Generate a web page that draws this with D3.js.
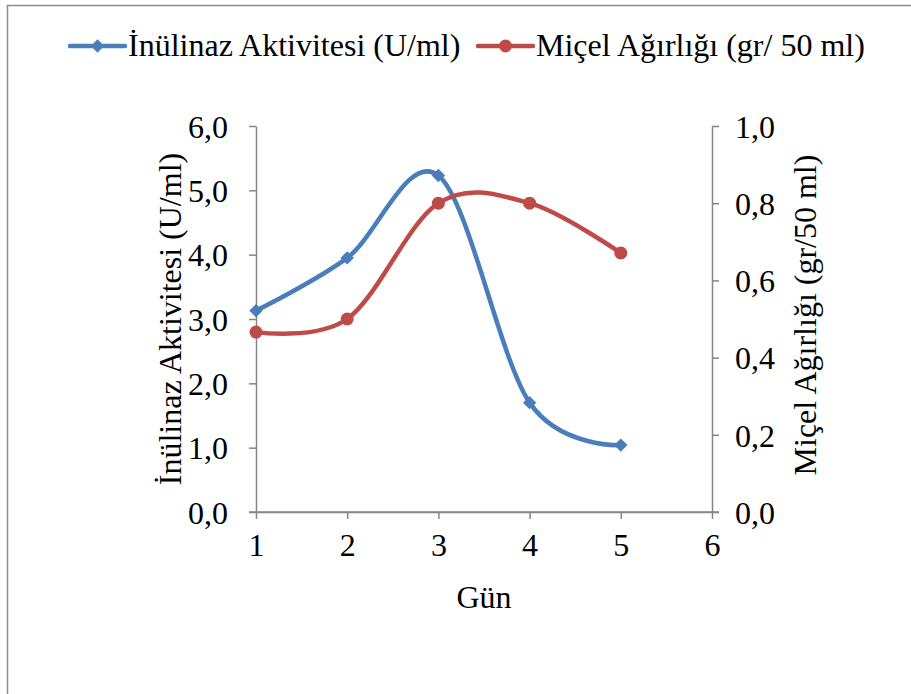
<!DOCTYPE html>
<html><head><meta charset="utf-8">
<script src="https://cdn.jsdelivr.net/npm/d3@7"></script>
<style>html,body{margin:0;padding:0;background:#fff;}svg{display:block;}</style>
</head><body>
<svg id="c" width="911" height="694"></svg>
<script>
const days = [1, 2, 3, 4, 5];
const inulinaz = [3.13, 3.95, 5.23, 1.70, 1.04];
const micel = [0.466, 0.50, 0.80, 0.80, 0.671];
const xTicks = [1, 2, 3, 4, 5, 6];
const yLeftTicks = [0, 1, 2, 3, 4, 5, 6];
const yRightTicks = [0, 0.2, 0.4, 0.6, 0.8, 1.0];
const seriesNames = ["İnülinaz Aktivitesi (U/ml)", "Miçel Ağırlığı (gr/ 50 ml)"];
const leftTitle = "İnülinaz Aktivitesi (U/ml)";
const rightTitle = "Miçel Ağırlığı (gr/50 ml)";
const xTitle = "Gün";

const FONT = "'Liberation Serif','Times New Roman',serif";
const BLUE = "#4a7ebb", RED = "#be4b48", AX = "#868686";
const svg = d3.select("#c");
svg.append("rect").attr("x",7.5).attr("y",5.5).attr("width",920).attr("height",720)
  .attr("fill","none").attr("stroke","#8c8c8c").attr("stroke-width",1.5);

const L = 256, R = 712, T = 126, B = 512;
const x = d3.scaleLinear().domain([1, 6]).range([L, R]);
const yL = d3.scaleLinear().domain([0, 6]).range([B, T]);
const yR = d3.scaleLinear().domain([0, 1]).range([B, T]);
const fmt = d3.format(".1f");
const comma = v => fmt(v).replace(".", ",");

function styleAxis(g){
  g.attr("font-family", FONT);
  g.select(".domain").attr("stroke", AX).attr("stroke-width", 1.5);
  g.selectAll(".tick line").attr("stroke", AX).attr("stroke-width", 1.5);
  g.selectAll("text").attr("font-family", FONT).attr("font-size", 32).attr("fill", "#000");
}
const gl = svg.append("g").attr("transform", `translate(${L},0)`)
  .call(d3.axisLeft(yL).tickValues(yLeftTicks).tickFormat(comma).tickSize(7).tickSizeOuter(0).tickPadding(21));
styleAxis(gl);
gl.selectAll(".tick text").attr("dy", "0.35em");
const gr = svg.append("g").attr("transform", `translate(${R},0)`)
  .call(d3.axisRight(yR).tickValues(yRightTicks).tickFormat(comma).tickSize(7).tickSizeOuter(0).tickPadding(16));
styleAxis(gr);
gr.selectAll(".tick text").attr("dy", "0.35em");
const gx = svg.append("g").attr("transform", `translate(0,${B})`)
  .call(d3.axisBottom(x).tickValues(xTicks).tickFormat(d3.format("d")).tickSize(7).tickSizeOuter(0).tickPadding(14));
styleAxis(gx);
svg.append("line").attr("x1", L-7).attr("x2", R+7).attr("y1", B).attr("y2", B).attr("stroke", AX).attr("stroke-width", 1.5);

const curve = d3.curveCardinal.tension(0);
const lineL = d3.line().x((d,i)=>x(days[i])).y(d=>yL(d)).curve(curve);
const lineR = d3.line().x((d,i)=>x(days[i])).y(d=>yR(d)).curve(curve);
svg.append("path").attr("d", lineL(inulinaz)).attr("fill","none").attr("stroke",BLUE).attr("stroke-width",4.5).attr("stroke-linecap","round");
svg.append("path").attr("d", lineR(micel)).attr("fill","none").attr("stroke",RED).attr("stroke-width",4.5).attr("stroke-linecap","round");

const sq = d3.symbol().type(d3.symbolSquare).size(90);
svg.selectAll(".dm").data(inulinaz).join("path")
  .attr("transform",(d,i)=>`translate(${x(days[i])},${yL(d)}) rotate(45)`).attr("d", sq).attr("fill",BLUE);
svg.selectAll(".cm").data(micel).join("circle")
  .attr("cx",(d,i)=>x(days[i])).attr("cy",d=>yR(d)).attr("r",6.5).attr("fill",RED);

svg.append("text").attr("transform",`translate(181,319) rotate(-90)`).attr("text-anchor","middle")
  .attr("font-family",FONT).attr("font-size",32).text(leftTitle);
svg.append("text").attr("transform",`translate(816,315) rotate(-90)`).attr("text-anchor","middle")
  .attr("font-family",FONT).attr("font-size",32).text(rightTitle);
svg.append("text").attr("x",(L+R)/2).attr("y",608).attr("text-anchor","middle")
  .attr("font-family",FONT).attr("font-size",32).text(xTitle);

const leg = [{x0:70, color:BLUE, type:"d", name:seriesNames[0], tx:128},
             {x0:478, color:RED, type:"c", name:seriesNames[1], tx:536}];
const ly = 46;
leg.forEach(l=>{
  svg.append("line").attr("x1",l.x0).attr("x2",l.x0+55).attr("y1",ly).attr("y2",ly).attr("stroke",l.color).attr("stroke-width",4.5).attr("stroke-linecap","round");
  if(l.type==="d") svg.append("path").attr("transform",`translate(${l.x0+27.5},${ly}) rotate(45)`).attr("d",sq).attr("fill",l.color);
  else svg.append("circle").attr("cx",l.x0+27.5).attr("cy",ly).attr("r",6.5).attr("fill",l.color);
  svg.append("text").attr("x",l.tx).attr("y",56).attr("font-family",FONT).attr("font-size",32).text(l.name);
});
</script>
</body></html>
